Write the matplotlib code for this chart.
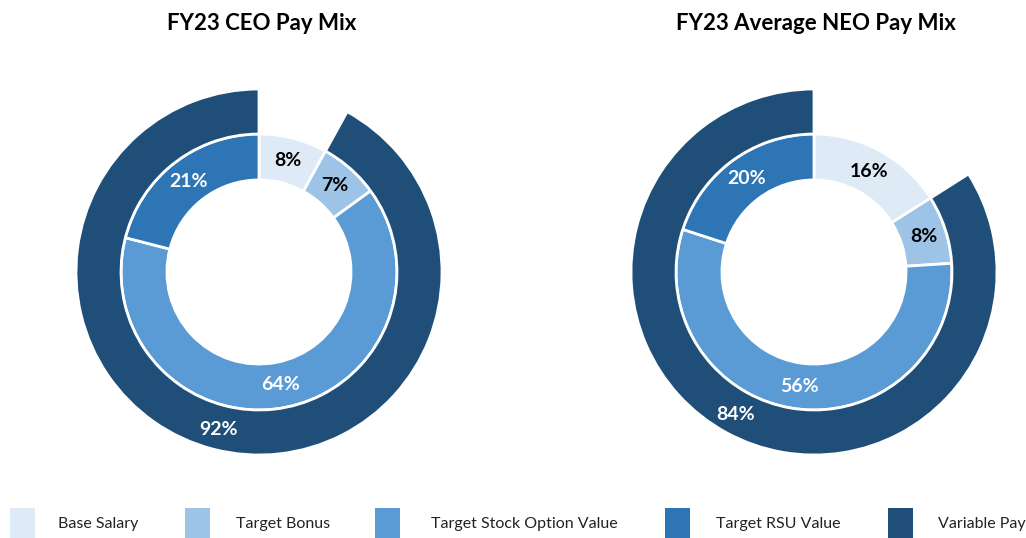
import numpy as np
import matplotlib.pyplot as plt
from matplotlib.patches import Rectangle

# data
categories = ['Base Salary', 'Target Bonus', 'Target Stock Option Value', 'Target RSU Value', 'Variable Pay']
colors = ['#DEEBF7', '#9DC3E6', '#5B9BD5', '#2E75B6', '#1F4E79']
label_colors = ['black', 'black', 'white', 'white', 'white']

titles = ['FY23 CEO Pay Mix', 'FY23 Average NEO Pay Mix']
ceo_inner = [8, 7, 64, 21]
ceo_variable = 92
neo_inner = [16, 8, 56, 20]
neo_variable = 84

plt.rcParams['font.family'] = ['Lato', 'DejaVu Sans']

fig = plt.figure(figsize=(10.26, 5.38), dpi=100)

R_OUT = 1.0
R_MID = 0.754
R_IN = 0.503


def donut(ax, inner, variable):
    base = inner[0]
    w_in, _ = ax.pie(inner, radius=R_MID, startangle=90, counterclock=False,
                     colors=colors[:4],
                     wedgeprops=dict(width=R_MID - R_IN, edgecolor='white', linewidth=2))
    w_out, _ = ax.pie([base, variable], radius=R_OUT, startangle=90, counterclock=False,
                      colors=['none', colors[4]],
                      wedgeprops=dict(width=R_OUT - R_MID, edgecolor='white', linewidth=2))
    w_out[0].set_edgecolor('none')
    r_lab = (R_MID + R_IN) / 2
    for w, v, c in zip(w_in, inner, label_colors[:4]):
        a = np.deg2rad((w.theta1 + w.theta2) / 2)
        ax.text(r_lab * np.cos(a), r_lab * np.sin(a), f'{v}%', ha='center', va='center',
                fontsize=14, fontweight='bold', color=c)
    w = w_out[1]
    a = np.deg2rad((w.theta1 + w.theta2) / 2)
    r_lab = (R_OUT + R_MID) / 2 + 0.01
    ax.text(r_lab * np.cos(a), r_lab * np.sin(a), f'{variable}%', ha='center', va='center',
            fontsize=14, fontweight='bold', color='white')
    ax.set_xlim(-1, 1)
    ax.set_ylim(-1, 1)
    ax.set_aspect('equal')
    ax.axis('off')


ax1 = fig.add_axes([76 / 1026, 83 / 538, 366 / 1026, 366 / 538])
ax2 = fig.add_axes([631 / 1026, 83 / 538, 366 / 1026, 366 / 538])
donut(ax1, ceo_inner, ceo_variable)
donut(ax2, neo_inner, neo_variable)

fig.text(262 / 1026, 1 - 23 / 538, titles[0], ha='center', va='center', fontsize=16, fontweight='bold')
fig.text(816 / 1026, 1 - 23 / 538, titles[1], ha='center', va='center', fontsize=16, fontweight='bold')

# legend
box_x = [10, 185, 375, 665, 888]
txt_x = [58, 236, 431, 716, 938]
for c, name, bx, tx in zip(colors, categories, box_x, txt_x):
    fig.add_artist(Rectangle((bx / 1026, 0), 25 / 1026, 30 / 538, transform=fig.transFigure,
                             facecolor=c, edgecolor='none'))
    fig.text(tx / 1026, 1 - 524 / 538, name, ha='left', va='center', fontsize=11.5, color='#222222')

fig.savefig('out.png', dpi=100, facecolor='white')
